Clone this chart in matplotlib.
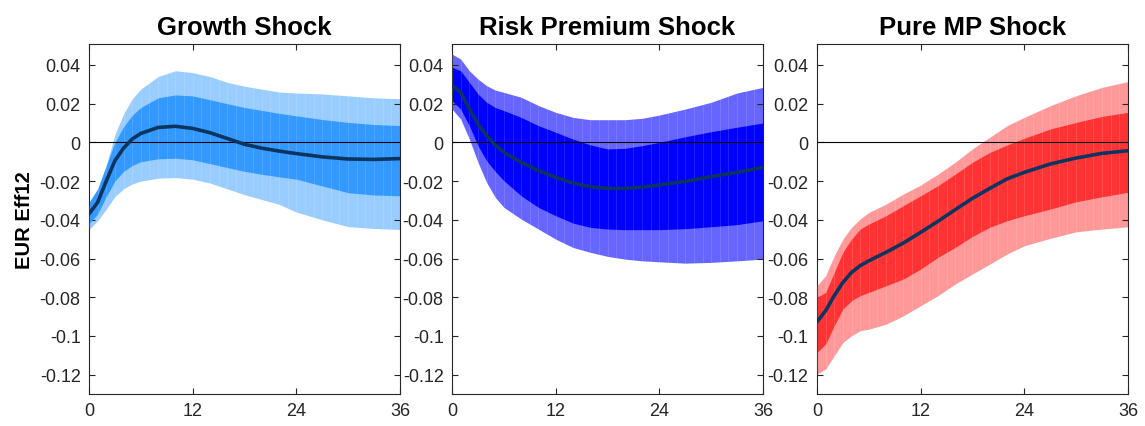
import matplotlib
matplotlib.use("Agg")
import matplotlib.pyplot as plt
import numpy as np

plt.rcParams['font.family'] = ['Liberation Sans', 'DejaVu Sans']

titles = ["Growth Shock", "Risk Premium Shock", "Pure MP Shock"]
ylabel = "EUR Eff12"
months = [0, 1, 2, 3, 4, 5, 6, 8, 10, 12, 14, 16, 18, 20, 22, 24, 27, 30, 33, 36]
xticks = [0, 12, 24, 36]
yticks = [-0.12, -0.1, -0.08, -0.06, -0.04, -0.02, 0, 0.02, 0.04]
yticklabels = ["-0.12", "-0.1", "-0.08", "-0.06", "-0.04", "-0.02", "0", "0.02", "0.04"]

# Growth shock
growth_median = [-0.037, -0.031, -0.020, -0.0095, -0.0030, 0.0017, 0.0046, 0.0077, 0.0083, 0.0072,
                 0.0050, 0.0020, -0.0010, -0.0030, -0.0045, -0.0058, -0.0075, -0.0086, -0.0088, -0.0084]
growth_in_hi = [-0.031, -0.024, -0.012, 0.000, 0.008, 0.014, 0.018, 0.023, 0.0245, 0.024,
                0.022, 0.020, 0.018, 0.0165, 0.015, 0.0137, 0.0118, 0.0103, 0.0092, 0.0087]
growth_in_lo = [-0.042, -0.037, -0.028, -0.020, -0.015, -0.012, -0.010, -0.0085, -0.0082, -0.009,
                -0.011, -0.013, -0.015, -0.0165, -0.0178, -0.019, -0.0225, -0.026, -0.0272, -0.0276]
growth_out_hi = [-0.0335, -0.025, -0.012, 0.004, 0.0146, 0.0224, 0.0275, 0.034, 0.037, 0.036,
                 0.034, 0.031, 0.029, 0.0275, 0.026, 0.0255, 0.025, 0.024, 0.023, 0.0225]
growth_out_lo = [-0.045, -0.0405, -0.0345, -0.028, -0.024, -0.0215, -0.020, -0.0185, -0.0182, -0.019,
                 -0.021, -0.024, -0.027, -0.0295, -0.032, -0.036, -0.040, -0.0435, -0.0445, -0.045]

# Risk premium shock
risk_median = [0.0293, 0.0258, 0.0172, 0.0095, 0.0034, -0.0014, -0.0052, -0.0103, -0.0146, -0.0181,
               -0.021, -0.0229, -0.0238, -0.0238, -0.0231, -0.022, -0.0202, -0.0177, -0.0155, -0.0129]
risk_in_hi = [0.0388, 0.037, 0.031, 0.025, 0.0207, 0.018, 0.0164, 0.0129, 0.0086, 0.0052,
              0.0017, -0.0013, -0.0034, -0.0031, -0.0017, 0.0, 0.0029, 0.0055, 0.0078, 0.010]
risk_in_lo = [0.0215, 0.0172, 0.0086, -0.0017, -0.0095, -0.015, -0.0198, -0.0276, -0.0336, -0.0379,
              -0.0417, -0.0439, -0.0448, -0.0451, -0.0451, -0.0451, -0.0446, -0.0436, -0.0425, -0.0405]
risk_out_hi = [0.0456, 0.043, 0.037, 0.0327, 0.0293, 0.027, 0.0258, 0.0233, 0.019, 0.0155,
               0.0129, 0.0117, 0.0117, 0.0117, 0.0124, 0.0141, 0.0172, 0.0207, 0.0255, 0.0284]
risk_out_lo = [0.0172, 0.012, 0.0017, -0.0103, -0.0207, -0.0284, -0.0336, -0.0396, -0.0448, -0.050,
               -0.0543, -0.0568, -0.0589, -0.0603, -0.0612, -0.0617, -0.0624, -0.062, -0.0612, -0.0603]

# Pure MP shock
mp_median = [-0.0927, -0.087, -0.0792, -0.0724, -0.0672, -0.0637, -0.0612, -0.0568, -0.052, -0.0465,
             -0.0408, -0.0348, -0.0289, -0.0238, -0.0189, -0.0155, -0.0112, -0.0081, -0.0057, -0.0043]
mp_in_hi = [-0.0801, -0.0775, -0.0672, -0.0568, -0.050, -0.0448, -0.0422, -0.0379, -0.0327, -0.0276,
            -0.0224, -0.0164, -0.0103, -0.0052, -0.0014, 0.0021, 0.0069, 0.0103, 0.0134, 0.0155]
mp_in_lo = [-0.1085, -0.1042, -0.0947, -0.0861, -0.0818, -0.0792, -0.0775, -0.0741, -0.0706, -0.0655,
            -0.0594, -0.0543, -0.0486, -0.0439, -0.0405, -0.0379, -0.0345, -0.0307, -0.0281, -0.0258]
mp_out_hi = [-0.0741, -0.0689, -0.0586, -0.050, -0.0439, -0.0396, -0.0362, -0.0319, -0.0267, -0.0221,
             -0.0164, -0.0103, -0.0034, 0.0026, 0.0086, 0.0129, 0.0189, 0.0241, 0.0284, 0.0314]
mp_out_lo = [-0.1197, -0.1171, -0.1102, -0.1034, -0.0999, -0.0973, -0.0965, -0.0939, -0.0896, -0.0844,
             -0.0792, -0.0732, -0.068, -0.0629, -0.0577, -0.0534, -0.0496, -0.0462, -0.0448, -0.0436]

panels = [
    (growth_median, growth_in_lo, growth_in_hi, growth_out_lo, growth_out_hi, "#99ccff", "#3399ff"),
    (risk_median, risk_in_lo, risk_in_hi, risk_out_lo, risk_out_hi, "#6666ff", "#0000ff"),
    (mp_median, mp_in_lo, mp_in_hi, mp_out_lo, mp_out_hi, "#ff9999", "#ff3333"),
]

fig = plt.figure(figsize=(11.45, 4.27), dpi=100)
lefts = [0.0777, 0.3948, 0.7135]
width = 0.2716
bottom = 0.0749
height = 0.8197

for i, (med, ilo, ihi, olo, ohi, lc, dc) in enumerate(panels):
    ax = fig.add_axes([lefts[i], bottom, width, height])
    outer = ax.fill_between(months, olo, ohi, color=lc, linewidth=0, zorder=1)
    inner = ax.fill_between(months, ilo, ihi, color=dc, linewidth=0, zorder=2)
    stripes = ax.vlines(np.arange(0, 37), -0.13, 0.05, colors="white", alpha=0.15,
                        linewidth=0.6, zorder=3)
    path = outer.get_paths()[0]
    stripes.set_clip_path(path, ax.transData)
    ax.axhline(0, color="black", linewidth=0.8, zorder=4)
    ax.plot(months, med, color="#0b3560", linewidth=2.6, zorder=5, solid_capstyle="round")
    ax.set_xlim(0, 36)
    ax.set_ylim(-0.13, 0.0508)
    ax.set_xticks(xticks)
    ax.set_xticklabels([str(t) for t in xticks])
    ax.set_yticks(yticks)
    ax.set_yticklabels(yticklabels)
    ax.tick_params(direction="in", top=True, right=True, length=4, width=0.8,
                   labelsize=13, colors="#262626", pad=6)
    for sp in ax.spines.values():
        sp.set_color("#262626")
        sp.set_linewidth(0.8)
    ax.set_title(titles[i], fontsize=18.5, fontweight="bold", pad=7)
    if i == 0:
        ax.set_ylabel(ylabel, fontsize=14.5, fontweight="bold", labelpad=4)

fig.savefig("out.png", dpi=100)
